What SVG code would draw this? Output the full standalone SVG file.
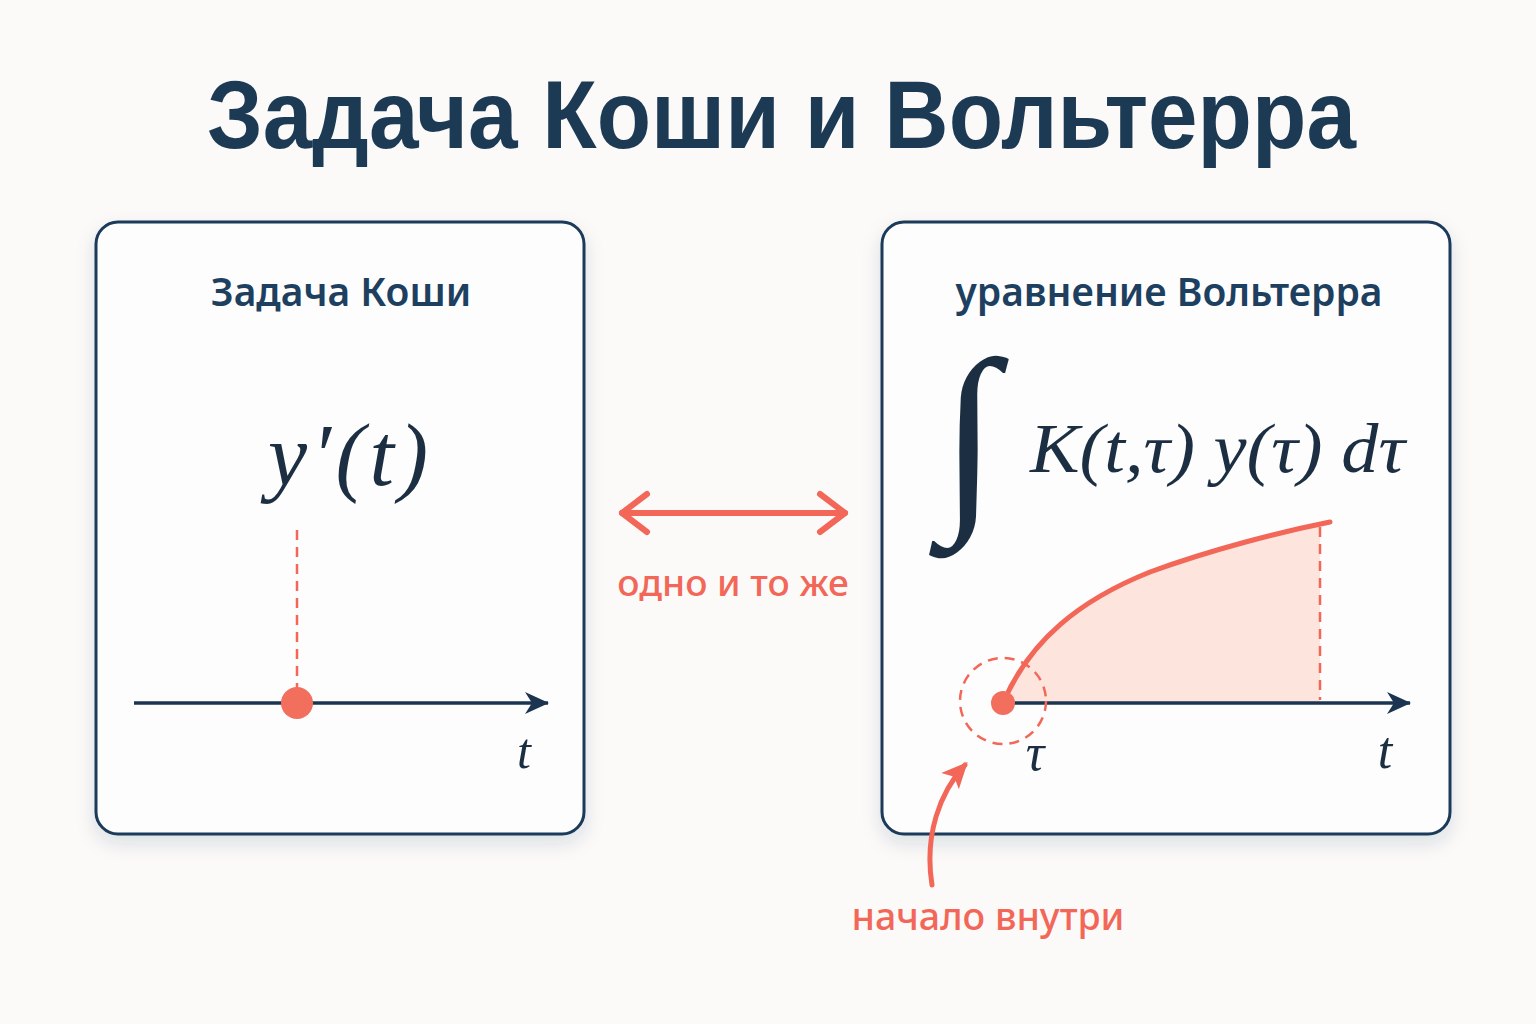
<svg xmlns="http://www.w3.org/2000/svg" width="1536" height="1024" viewBox="0 0 1536 1024">
<defs>
<filter id="sh" x="-10%" y="-10%" width="120%" height="125%">
<feDropShadow dx="0" dy="8" stdDeviation="9" flood-color="#1d3a55" flood-opacity="0.13"/>
</filter>
<marker id="ah" viewBox="0 0 26 24" refX="24" refY="12" markerWidth="26" markerHeight="24" markerUnits="userSpaceOnUse" orient="auto">
<path d="M1,1 L25,12 L1,23 L8,12 Z" fill="#1b3550"/>
</marker>
<marker id="rh" viewBox="0 0 28 28" refX="22" refY="14" markerWidth="28" markerHeight="28" markerUnits="userSpaceOnUse" orient="auto">
<path d="M0,2 L26,14 L0,26 L6,14 Z" fill="#f26758"/>
</marker>
</defs>
<style>
.box{fill:#fdfdfd;stroke:#1b3a5a;stroke-width:3}
.ttl{font-family:"Noto Sans","Open Sans",sans-serif;font-weight:600;fill:#1d4060;font-size:39px;text-anchor:middle}
.math{font-family:"Liberation Serif","DejaVu Serif",serif;font-style:italic;fill:#1b2e42}
.red{font-family:"Noto Sans","Open Sans",sans-serif;font-weight:500;fill:#f26758;text-anchor:middle}
.axis{stroke:#1b3550;stroke-width:3.5;fill:none}
.dash{stroke:#f26758;stroke-width:2.5;stroke-dasharray:10 7;fill:none}
</style>
<rect width="1536" height="1024" fill="#fbfaf8"/>
<text x="207" y="148" font-family="Liberation Sans,Arial,sans-serif" font-weight="700" font-size="97" fill="#1d3a55" textLength="1149" lengthAdjust="spacingAndGlyphs">Задача Коши и Вольтерра</text>

<g id="cauchy">
<rect class="box" x="96" y="222" width="488" height="612" rx="22" filter="url(#sh)"/>
<text class="ttl" x="341" y="306">Задача Коши</text>
<text class="math" x="268" y="485" font-size="88" textLength="160" lengthAdjust="spacing">y′(t)</text>
<line class="dash" x1="297" y1="530" x2="297" y2="690"/>
<line class="axis" x1="134" y1="703" x2="548" y2="703" marker-end="url(#ah)"/>
<circle cx="297" cy="703" r="16" fill="#f26f5e"/>
<text class="math" x="524" y="768" font-size="50" text-anchor="middle">t</text>
</g>

<g id="volterra">
<rect class="box" x="882" y="222" width="568" height="612" rx="22" filter="url(#sh)"/>
<text class="ttl" x="1169" y="306">уравнение Вольтерра</text>
<text class="math" x="0" y="0" font-size="190" font-style="normal" transform="translate(940 503) scale(1.11 1.086)">∫</text>
<text class="math" x="1030" y="472" font-size="70" textLength="375" lengthAdjust="spacingAndGlyphs">K(t,τ) y(τ) dτ</text>
<path d="M1003,703 C1030,640 1080,600 1150,572 C1210,550 1280,532 1320,524 L1320,703 Z" fill="#fde4dd"/>
<path d="M1003,703 C1030,640 1080,600 1150,572 C1210,550 1280,532 1330,522" fill="none" stroke="#f26758" stroke-width="5" stroke-linecap="round"/>
<line class="dash" x1="1320" y1="527" x2="1320" y2="700"/>
<line class="axis" x1="1003" y1="703" x2="1410" y2="703" marker-end="url(#ah)"/>
<circle cx="1003" cy="701" r="43" fill="none" stroke="#f26758" stroke-width="2.5" stroke-dasharray="10 7"/>
<circle cx="1003" cy="703" r="12" fill="#f26f5e"/>
<text class="math" x="1035" y="770" font-size="52" text-anchor="middle">τ</text>
<text class="math" x="1385" y="768" font-size="52" text-anchor="middle">t</text>
</g>

<g id="connectors">
<g stroke="#f26758" stroke-width="6" stroke-linecap="round" stroke-linejoin="round" fill="none">
<line x1="622" y1="513" x2="845" y2="513"/>
<polyline points="647,494 622,513 647,532"/>
<polyline points="820,494 845,513 820,532"/>
</g>
<path d="M932,885 C924,835 940,792 965,765" fill="none" stroke="#f26758" stroke-width="5" stroke-linecap="round" marker-end="url(#rh)"/>
</g>

<text class="red" x="733" y="596" font-size="37">одно и то же</text>
<text class="red" x="988" y="930" font-size="37.5">начало внутри</text>
</svg>
